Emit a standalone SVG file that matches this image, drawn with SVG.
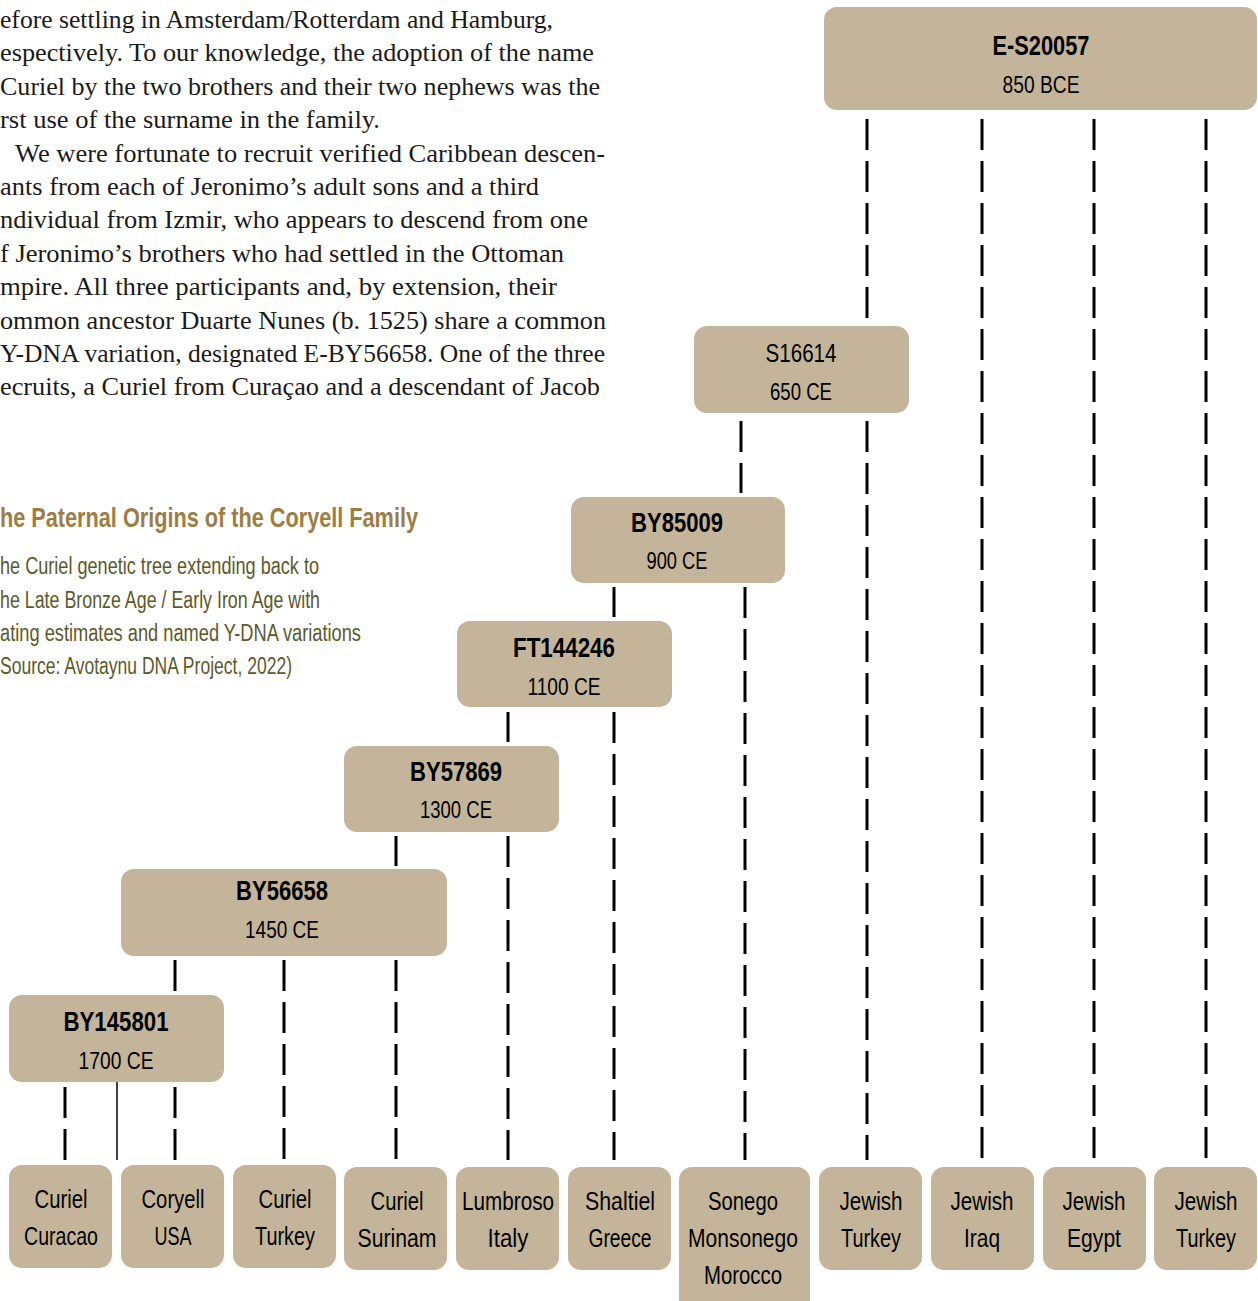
<svg xmlns="http://www.w3.org/2000/svg" width="1258" height="1301" viewBox="0 0 1258 1301">
<style>
.bg{fill:#ffffff}
.box{fill:#c4b59a}
.body{font-family:"Liberation Serif","DejaVu Serif",serif;font-size:25.5px;fill:#1a1a1a}
.title{font-family:"Liberation Sans","DejaVu Sans",sans-serif;font-size:28px;font-weight:bold;fill:#9c7e45}
.cap{font-family:"Liberation Sans","DejaVu Sans",sans-serif;font-size:23px;fill:#5b5a2b}
.nt{font-family:"Liberation Sans","DejaVu Sans",sans-serif;font-size:27px;font-weight:bold;fill:#000;text-anchor:middle}
.nd{font-family:"Liberation Sans","DejaVu Sans",sans-serif;font-size:24px;fill:#000;text-anchor:middle}
.lb{font-family:"Liberation Sans","DejaVu Sans",sans-serif;font-size:26px;fill:#000;text-anchor:middle}
.dl{stroke:#000;stroke-width:3;stroke-dasharray:31 11;fill:none}
.sl{stroke:#000;stroke-width:1.5;fill:none}
</style>
<rect class="bg" x="0" y="0" width="1258" height="1301"/>

<g id="body-text" class="body">
<text x="0" y="28" textLength="553" lengthAdjust="spacingAndGlyphs">efore settling in Amsterdam/Rotterdam and Hamburg,</text>
<text x="0" y="61.4" textLength="594" lengthAdjust="spacingAndGlyphs">espectively. To our knowledge, the adoption of the name</text>
<text x="0" y="94.8" textLength="600" lengthAdjust="spacingAndGlyphs">Curiel by the two brothers and their two nephews was the</text>
<text x="0" y="128.2" textLength="380" lengthAdjust="spacingAndGlyphs">rst use of the surname in the family.</text>
<text x="15" y="161.6" textLength="590" lengthAdjust="spacingAndGlyphs">We were fortunate to recruit verified Caribbean descen-</text>
<text x="0" y="195" textLength="539" lengthAdjust="spacingAndGlyphs">ants from each of Jeronimo’s adult sons and a third</text>
<text x="0" y="228.4" textLength="588" lengthAdjust="spacingAndGlyphs">ndividual from Izmir, who appears to descend from one</text>
<text x="0" y="261.8" textLength="564" lengthAdjust="spacingAndGlyphs">f Jeronimo’s brothers who had settled in the Ottoman</text>
<text x="0" y="295.2" textLength="557" lengthAdjust="spacingAndGlyphs">mpire. All three participants and, by extension, their</text>
<text x="0" y="328.6" textLength="606" lengthAdjust="spacingAndGlyphs">ommon ancestor Duarte Nunes (b. 1525) share a common</text>
<text x="0" y="362" textLength="605" lengthAdjust="spacingAndGlyphs">Y-DNA variation, designated E-BY56658. One of the three</text>
<text x="0" y="395.4" textLength="600" lengthAdjust="spacingAndGlyphs">ecruits, a Curiel from Curaçao and a descendant of Jacob</text>
</g>

<g id="caption">
<text class="title" x="0" y="527" textLength="418" lengthAdjust="spacingAndGlyphs">he Paternal Origins of the Coryell Family</text>
<text class="cap" x="0" y="574" textLength="319" lengthAdjust="spacingAndGlyphs">he Curiel genetic tree extending back to</text>
<text class="cap" x="0" y="608" textLength="320" lengthAdjust="spacingAndGlyphs">he Late Bronze Age / Early Iron Age with</text>
<text class="cap" x="0" y="641" textLength="361" lengthAdjust="spacingAndGlyphs">ating estimates and named Y-DNA variations</text>
<text class="cap" x="0" y="674" textLength="292" lengthAdjust="spacingAndGlyphs">Source: Avotaynu DNA Project, 2022)</text>
</g>

<g id="connectors">
<line class="dl" x1="867" y1="119" x2="867" y2="318"/>
<line class="dl" x1="982" y1="119" x2="982" y2="1160"/>
<line class="dl" x1="1094" y1="119" x2="1094" y2="1160"/>
<line class="dl" x1="1206" y1="119" x2="1206" y2="1160"/>
<line class="dl" x1="867" y1="421" x2="867" y2="1160"/>
<line class="dl" x1="741" y1="421" x2="741" y2="493"/>
<line class="dl" x1="614" y1="587" x2="614" y2="617"/>
<line class="dl" x1="745" y1="587" x2="745" y2="1160"/>
<line class="dl" x1="508" y1="712" x2="508" y2="742"/>
<line class="dl" x1="614" y1="712" x2="614" y2="1160"/>
<line class="dl" x1="396" y1="836" x2="396" y2="866"/>
<line class="dl" x1="508" y1="836" x2="508" y2="1160"/>
<line class="dl" x1="175" y1="960" x2="175" y2="991"/>
<line class="dl" x1="284" y1="960" x2="284" y2="1160"/>
<line class="dl" x1="396" y1="960" x2="396" y2="1160"/>
<line class="dl" x1="65" y1="1087" x2="65" y2="1160"/>
<line class="sl" x1="117" y1="1082" x2="117" y2="1160"/>
<line class="dl" x1="175" y1="1087" x2="175" y2="1160"/>
</g>

<g id="n-ES20057"><rect class="box" x="824" y="7" width="433" height="103" rx="13"/><text class="nt" x="1041" y="55" textLength="97" lengthAdjust="spacingAndGlyphs">E-S20057</text><text class="nd" x="1041" y="93" textLength="77" lengthAdjust="spacingAndGlyphs">850 BCE</text></g>
<g id="n-S16614"><rect class="box" x="694" y="326" width="215" height="87" rx="13"/><text class="nd" x="801" y="362" style="font-size:26px" textLength="71" lengthAdjust="spacingAndGlyphs">S16614</text><text class="nd" x="801" y="400" textLength="62" lengthAdjust="spacingAndGlyphs">650 CE</text></g>
<g id="n-BY85009"><rect class="box" x="571" y="497" width="214" height="86" rx="13"/><text class="nt" x="677" y="532" textLength="92" lengthAdjust="spacingAndGlyphs">BY85009</text><text class="nd" x="677" y="569" textLength="61" lengthAdjust="spacingAndGlyphs">900 CE</text></g>
<g id="n-FT144246"><rect class="box" x="457" y="621" width="215" height="86" rx="13"/><text class="nt" x="564" y="657" textLength="102" lengthAdjust="spacingAndGlyphs">FT144246</text><text class="nd" x="564" y="695" textLength="73" lengthAdjust="spacingAndGlyphs">1100 CE</text></g>
<g id="n-BY57869"><rect class="box" x="344" y="746" width="215" height="86" rx="13"/><text class="nt" x="456" y="781" textLength="92" lengthAdjust="spacingAndGlyphs">BY57869</text><text class="nd" x="456" y="818" textLength="72" lengthAdjust="spacingAndGlyphs">1300 CE</text></g>
<g id="n-BY56658"><rect class="box" x="121" y="869" width="326" height="87" rx="13"/><text class="nt" x="282" y="900" textLength="92" lengthAdjust="spacingAndGlyphs">BY56658</text><text class="nd" x="282" y="938" textLength="74" lengthAdjust="spacingAndGlyphs">1450 CE</text></g>
<g id="n-BY145801"><rect class="box" x="9" y="995" width="215" height="87" rx="13"/><text class="nt" x="116" y="1031" textLength="105" lengthAdjust="spacingAndGlyphs">BY145801</text><text class="nd" x="116" y="1069" textLength="75" lengthAdjust="spacingAndGlyphs">1700 CE</text></g>

<g id="l-curiel-curacao"><rect class="box" x="9" y="1165" width="103" height="103" rx="13"/><text class="lb" x="61" y="1208" textLength="53" lengthAdjust="spacingAndGlyphs">Curiel</text><text class="lb" x="61" y="1245" textLength="74" lengthAdjust="spacingAndGlyphs">Curacao</text></g>
<g id="l-coryell-usa"><rect class="box" x="121" y="1165" width="103" height="103" rx="13"/><text class="lb" x="173" y="1208" textLength="63" lengthAdjust="spacingAndGlyphs">Coryell</text><text class="lb" x="173" y="1245" textLength="37" lengthAdjust="spacingAndGlyphs">USA</text></g>
<g id="l-curiel-turkey"><rect class="box" x="233" y="1165" width="103" height="103" rx="13"/><text class="lb" x="285" y="1208" textLength="53" lengthAdjust="spacingAndGlyphs">Curiel</text><text class="lb" x="285" y="1245" textLength="60" lengthAdjust="spacingAndGlyphs">Turkey</text></g>
<g id="l-curiel-surinam"><rect class="box" x="344" y="1167" width="103" height="103" rx="13"/><text class="lb" x="397" y="1210" textLength="53" lengthAdjust="spacingAndGlyphs">Curiel</text><text class="lb" x="397" y="1247" textLength="79" lengthAdjust="spacingAndGlyphs">Surinam</text></g>
<g id="l-lumbroso"><rect class="box" x="456" y="1167" width="103" height="103" rx="13"/><text class="lb" x="508" y="1210" textLength="92" lengthAdjust="spacingAndGlyphs">Lumbroso</text><text class="lb" x="508" y="1247" textLength="41" lengthAdjust="spacingAndGlyphs">Italy</text></g>
<g id="l-shaltiel"><rect class="box" x="568" y="1167" width="103" height="103" rx="13"/><text class="lb" x="620" y="1210" textLength="70" lengthAdjust="spacingAndGlyphs">Shaltiel</text><text class="lb" x="620" y="1247" textLength="63" lengthAdjust="spacingAndGlyphs">Greece</text></g>
<g id="l-sonego"><rect class="box" x="679" y="1167" width="131" height="150" rx="13"/><text class="lb" x="743" y="1210" textLength="70" lengthAdjust="spacingAndGlyphs">Sonego</text><text class="lb" x="743" y="1247" textLength="110" lengthAdjust="spacingAndGlyphs">Monsonego</text><text class="lb" x="743" y="1284" textLength="78" lengthAdjust="spacingAndGlyphs">Morocco</text></g>
<g id="l-jewish-turkey"><rect class="box" x="819" y="1167" width="103" height="103" rx="13"/><text class="lb" x="871" y="1210" textLength="63" lengthAdjust="spacingAndGlyphs">Jewish</text><text class="lb" x="871" y="1247" textLength="60" lengthAdjust="spacingAndGlyphs">Turkey</text></g>
<g id="l-jewish-iraq"><rect class="box" x="931" y="1167" width="103" height="103" rx="13"/><text class="lb" x="982" y="1210" textLength="63" lengthAdjust="spacingAndGlyphs">Jewish</text><text class="lb" x="982" y="1247" textLength="36" lengthAdjust="spacingAndGlyphs">Iraq</text></g>
<g id="l-jewish-egypt"><rect class="box" x="1043" y="1167" width="103" height="103" rx="13"/><text class="lb" x="1094" y="1210" textLength="63" lengthAdjust="spacingAndGlyphs">Jewish</text><text class="lb" x="1094" y="1247" textLength="54" lengthAdjust="spacingAndGlyphs">Egypt</text></g>
<g id="l-jewish-turkey2"><rect class="box" x="1154" y="1167" width="103" height="103" rx="13"/><text class="lb" x="1206" y="1210" textLength="63" lengthAdjust="spacingAndGlyphs">Jewish</text><text class="lb" x="1206" y="1247" textLength="60" lengthAdjust="spacingAndGlyphs">Turkey</text></g>
</svg>
